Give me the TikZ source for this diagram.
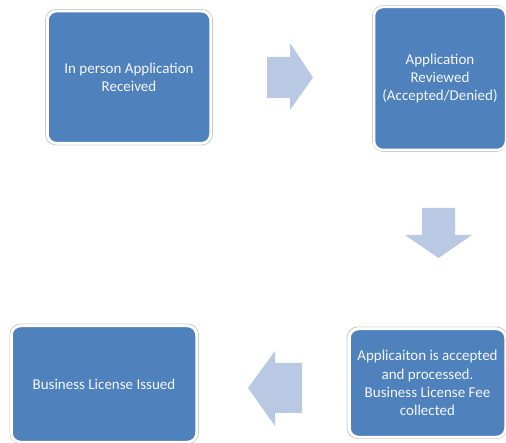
\documentclass[tikz,border=0pt]{standalone}
\usepackage{fontspec}
\setmainfont{Carlito}
\definecolor{boxblue}{HTML}{4F81BD}
\definecolor{arrowblue}{HTML}{B9C9E3}
\definecolor{edgegray}{HTML}{C8C8C8}
\begin{document}
\begin{tikzpicture}[x=1pt,y=-1pt,
  stepbox/.style={fill=boxblue, draw=white, line width=2.5pt, rounded corners=9pt,
    text=white!94!boxblue, align=center, font=\fontsize{15}{18.3}\selectfont, inner sep=0pt},
  outline/.style={draw=edgegray, line width=0.8pt, rounded corners=10.5pt},
  arrowfill/.style={fill=arrowblue, draw=none}]
\useasboundingbox (0,0) rectangle (506,443);
% box outlines
\draw[outline] (45.5,9.5) rectangle (212.5,145);
\draw[outline] (372.5,5.5) rectangle (507,151.5);
\draw[outline] (10,324) rectangle (198.5,443.5);
\draw[outline] (347,327) rectangle (507,438.5);
% boxes
\node[stepbox, minimum width=163pt, minimum height=132pt] (b1) at (129,77.2) {In person Application\\Received};
\node[stepbox, minimum width=132pt, minimum height=143pt] (b2) at (440,78.5) {Application\\Reviewed\\(Accepted/Denied)};
\node[stepbox, minimum width=156pt, minimum height=108pt] (b4) at (427.5,383) {Applicaiton is accepted\\and processed.\\Business License Fee\\collected};
\node[stepbox, minimum width=185pt, minimum height=116pt] (b3) at (104,384) {Business License Issued};
% arrows
\fill[arrowfill] (267,57) -- (290,57) -- (290,43) -- (313,77.5) -- (290,110) -- (290,98) -- (267,98) -- cycle;
\fill[arrowfill] (422,208) -- (455,208) -- (455,235) -- (472,235) -- (438.5,258) -- (405,235) -- (422,235) -- cycle;
\fill[arrowfill] (302,363) -- (302,413) -- (275,413) -- (275,426) -- (248,388) -- (275,351) -- (275,363) -- cycle;
\end{tikzpicture}
\end{document}
